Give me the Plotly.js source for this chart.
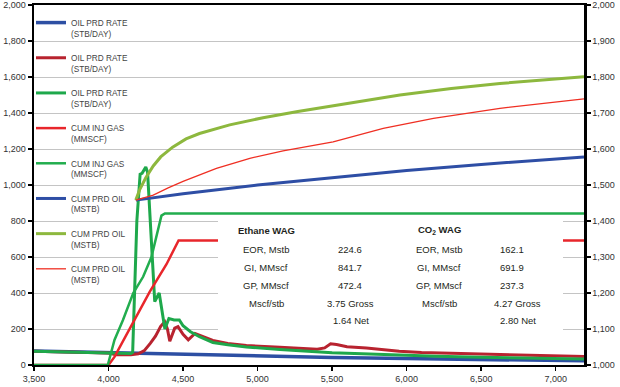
<!DOCTYPE html>
<html>
<head>
<meta charset="utf-8">
<script src="https://cdn.plot.ly/plotly-3.0.1.min.js"></script>
<style>
html,body{margin:0;padding:0;background:#fff;}
#chart{width:620px;height:387px;}
</style>
</head>
<body>
<div id="chart"></div>
<script>
// ---- data ----
const blueRateX = [3500, 4000, 4300, 4500, 5000, 5500, 6000, 6500, 7190];
const blueRateY = [78, 68, 63, 58, 49, 42, 36, 30, 23];

const redRateX = [3500, 4000, 4050, 4150, 4200, 4240, 4280, 4315, 4350, 4377, 4395, 4411, 4444, 4466, 4500, 4535, 4580, 4634, 4700, 4800, 4925, 5150, 5400, 5450, 5490, 5530, 5600, 5730, 5850, 5950, 6100, 6400, 6700, 7000, 7190];
const redRateY = [76, 67, 57, 57, 62, 80, 120, 160, 215, 240, 200, 132, 205, 213, 170, 140, 175, 157, 136, 120, 108, 98, 88, 95, 118, 114, 102, 94, 84, 76, 69, 62, 56, 51, 47];

const greenRateX = [3500, 4000, 4150, 4162, 4190, 4212, 4225, 4250, 4262, 4310, 4340, 4378, 4405, 4440, 4475, 4500, 4550, 4610, 4700, 4800, 4925, 5150, 5370, 5500, 5700, 5950, 6200, 6500, 6800, 7190];
const greenRateY = [76, 67, 64, 70, 800, 1060, 1065, 1100, 1070, 352, 400, 200, 258, 250, 250, 218, 185, 157, 125, 112, 100, 86, 74, 68, 62, 54, 48, 43, 38, 33];

const redInjX = [3500, 4000, 4040, 4165, 4277, 4389, 4470, 7190];
const redInjY = [0, 0, 45, 232, 408, 560, 692, 692];

const greenInjX = [3500, 3995, 4040, 4097, 4166, 4232, 4288, 4321, 4355, 4378, 7190];
const greenInjY = [0, 0, 139, 250, 400, 490, 600, 715, 830, 842, 842];

const blueCumX = [4183, 4300, 4500, 5000, 5500, 6000, 6500, 7000, 7190];
const blueCumY = [1458, 1465, 1476, 1500, 1521, 1540, 1557, 1572, 1578];

const greenCumX = [4183, 4210, 4250, 4300, 4350, 4430, 4520, 4610, 4813, 5037, 5270, 5500, 5955, 6300, 6626, 7190];
const greenCumY = [1458, 1488, 1520, 1553, 1578, 1605, 1628, 1643, 1667, 1687, 1704, 1719, 1750, 1768, 1782, 1801];

const redCumX = [4183, 4300, 4400, 4500, 4724, 4948, 5171, 5400, 5507, 5843, 6180, 6626, 7190];
const redCumY = [1458, 1472, 1492, 1510, 1546, 1574, 1595, 1612, 1620, 1657, 1685, 1713, 1739];

const seriesNames = [
  'OIL PRD RATE<br>(STB/DAY)', 'OIL PRD RATE<br>(STB/DAY)', 'OIL PRD RATE<br>(STB/DAY)',
  'CUM INJ GAS<br>(MMSCF)', 'CUM INJ GAS<br>(MMSCF)',
  'CUM PRD OIL<br>(MSTB)', 'CUM PRD OIL<br>(MSTB)', 'CUM PRD OIL<br>(MSTB)'
];

const tableLabels = ['EOR, Mstb', 'GI, MMscf', 'GP, MMscf', 'Mscf/stb'];
const ethaneTitle = 'Ethane WAG';
const ethaneValues = ['224.6', '841.7', '472.4', '3.75 Gross', '1.64 Net'];
const co2Title = 'CO<sub>2</sub> WAG';
const co2Values = ['162.1', '691.9', '237.3', '4.27 Gross', '2.80 Net'];

const xTicks = [3500, 4000, 4500, 5000, 5500, 6000, 6500, 7000];

// ---- traces ----
function nm(s){ return '\u00a0<br>' + s; }
const traces = [
  {x: blueRateX, y: blueRateY, yaxis: 'y', line: {color: '#2d4fa3', width: 3.5}},
  {x: redRateX, y: redRateY, yaxis: 'y', line: {color: '#b8232f', width: 3}},
  {x: greenRateX, y: greenRateY, yaxis: 'y', line: {color: '#1ea84b', width: 3}},
  {x: redInjX, y: redInjY, yaxis: 'y', line: {color: '#e8262b', width: 2.5}},
  {x: greenInjX, y: greenInjY, yaxis: 'y', line: {color: '#22ad4e', width: 2.5}},
  {x: blueCumX, y: blueCumY, yaxis: 'y2', line: {color: '#2e4ea5', width: 3}},
  {x: greenCumX, y: greenCumY, yaxis: 'y2', line: {color: '#8db83e', width: 3}},
  {x: redCumX, y: redCumY, yaxis: 'y2', line: {color: '#ef2f23', width: 1.3}}
].map((t, i) => Object.assign({type: 'scatter', mode: 'lines', name: nm(seriesNames[i]), hoverinfo: 'skip'}, t));

// ---- geometry helpers (pixel -> paper) ----
const L = 34, R = 36, T = 5, B = 22, W = 620, H = 387;
const pw = W - L - R, ph = H - T - B;
const px = v => (v - L) / pw;
const py = v => (H - B - v) / ph;

const tfont = {family: 'Liberation Sans, Arial, sans-serif', size: 9.5, color: '#231f20'};
const annotations = [];
function ann(text, x, y, bold) {
  annotations.push({text: bold ? '<b>' + text + '</b>' : text, x: px(x), y: py(y), xref: 'paper', yref: 'paper',
    xanchor: 'center', yanchor: 'middle', showarrow: false, font: tfont});
}
const rowY = [249, 267, 285, 303, 320];
ann(ethaneTitle, 266, 230, true);
ann(co2Title, 439, 230, true);
tableLabels.forEach((s, i) => { ann(s, 266, rowY[i]); ann(s, 439, rowY[i]); });
const c2x = [350, 350, 350, 350, 351];
const c4x = [512, 512, 512, 517, 518];
ethaneValues.forEach((s, i) => ann(s, c2x[i], rowY[i]));
co2Values.forEach((s, i) => ann(s, c4x[i], rowY[i]));

const shapes = [
  // legend backdrop hides gridlines
  {type: 'rect', xref: 'paper', yref: 'paper', x0: 0, x1: px(137), y0: py(305), y1: 1,
   fillcolor: '#ffffff', line: {width: 0}, layer: 'between'},
  // table box
  {type: 'rect', xref: 'paper', yref: 'paper', x0: px(218), x1: px(563), y0: py(335), y1: py(216),
   fillcolor: '#ffffff', line: {width: 0}, layer: 'above'}
];

const axFont = {family: 'Liberation Sans, Arial, sans-serif', size: 9, color: '#333333'};
const layout = {
  width: W, height: H,
  margin: {l: L, r: R, t: T, b: B, autoexpand: false},
  paper_bgcolor: '#ffffff', plot_bgcolor: '#ffffff',
  showlegend: true,
  legend: {x: px(31), y: 1 + 5 / ph, xanchor: 'left', yanchor: 'top', bgcolor: 'rgba(0,0,0,0)',
    borderwidth: 0, maxheight: 380,
    font: {family: 'Liberation Sans, Arial, sans-serif', size: 8.25, color: '#444444'}},
  xaxis: {range: [3500, 7190], tickvals: xTicks, tickformat: ',d', ticks: 'outside', ticklen: 4,
    tickcolor: '#000', tickwidth: 1.5, showline: true, linecolor: '#000', linewidth: 2, mirror: true,
    showgrid: false, zeroline: false, tickfont: axFont},
  yaxis: {range: [0, 2000], dtick: 200, tickformat: ',d', ticks: 'outside', ticklen: 4, tickcolor: '#000',
    tickwidth: 1.5, showline: true, linecolor: '#000', linewidth: 2.5, showgrid: true, gridcolor: '#c4c4c4',
    gridwidth: 1, zeroline: false, tickfont: axFont},
  yaxis2: {range: [1000, 2000], dtick: 100, tickformat: ',d', overlaying: 'y', side: 'right', ticks: 'outside',
    ticklen: 4, tickcolor: '#000', tickwidth: 1.5, showline: true, linecolor: '#000', linewidth: 2.5,
    showgrid: false, zeroline: false, tickfont: axFont},
  shapes: shapes,
  annotations: annotations
};

Plotly.newPlot('chart', traces, layout, {staticPlot: true, displayModeBar: false});
</script>
</body>
</html>
